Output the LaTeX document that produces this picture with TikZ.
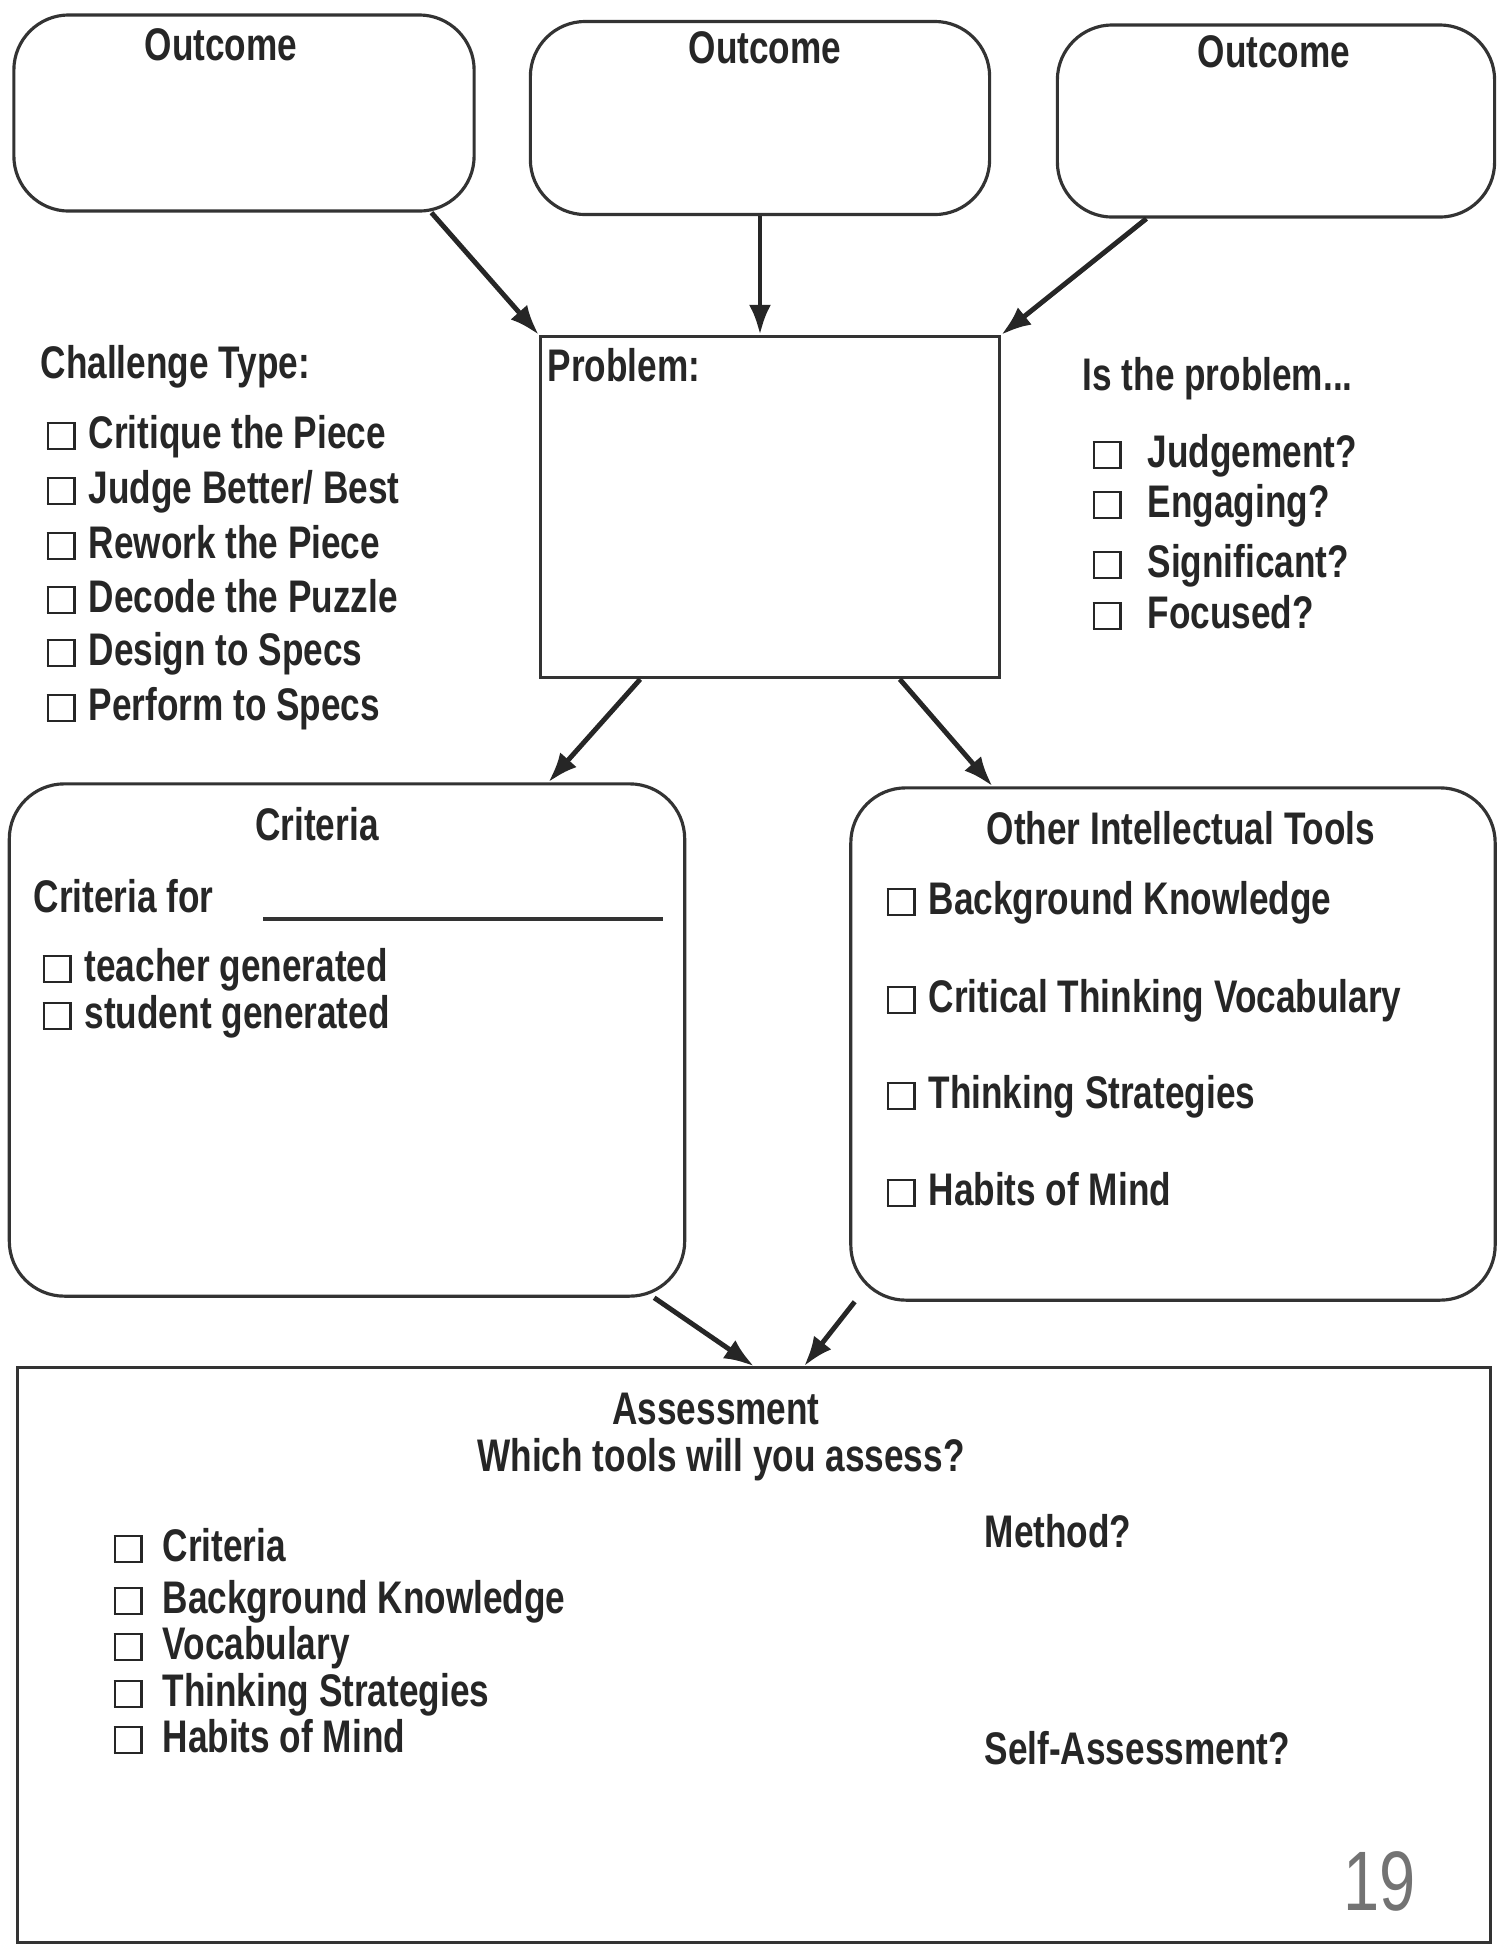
\documentclass[tikz,border=0pt]{standalone}
\usepackage{fontspec}
\setmainfont{Liberation Sans}[FakeStretch=0.77]
\newfontfamily\symf{DejaVu Sans}
\usetikzlibrary{arrows.meta,positioning}
\newcommand{\cb}{{\setlength{\fboxsep}{0pt}\setlength{\fboxrule}{0.7pt}\fbox{\rule{0pt}{2.4mm}\hspace{2.4mm}}}\hspace{1.3mm}}

\begin{document}
\begin{tikzpicture}[x=0.01cm,y=-0.01cm,
  box/.style={draw=black!80,line width=0.9pt,rounded corners=5.5mm},
  sqbox/.style={draw=black!80,line width=0.9pt},
  txt/.style={inner sep=0pt,text=black!85,font=\fontsize{13}{15}\selectfont\bfseries},
  arr/.style={line width=1.4pt,draw=black!85,-{Latex[length=3mm,width=2.2mm]}}]
\useasboundingbox (0,0) rectangle (1497,1944);
\node[box,minimum width=4.6cm,minimum height=1.96cm] (out1) at (244,113) {};
\node[box,minimum width=4.59cm,minimum height=1.93cm] (out2) at (760,118) {};
\node[box,minimum width=4.37cm,minimum height=1.92cm] (out3) at (1276,121) {};
\node[sqbox,minimum width=4.59cm,minimum height=3.41cm] (prob) at (770,507) {};
\node[box,minimum width=6.75cm,minimum height=5.12cm] (crit) at (347,1040) {};
\node[box,minimum width=6.44cm,minimum height=5.12cm] (other) at (1173,1044) {};
\node[sqbox,minimum width=14.72cm,minimum height=5.74cm] (assess) at (754,1655) {};

\node[txt,anchor=base] (o1lbl) at (221,60) {Outcome};
\node[txt,anchor=base] (o2lbl) at (765,63) {Outcome};
\node[txt,anchor=base] (o3lbl) at (1274,67) {Outcome};

\node[txt,anchor=base west] (chhead) at (40,378) {Challenge Type:};
\node[txt,anchor=base west] (ch1) at (46,448) {\cb Critique the Piece};
\node[txt,anchor=base west] (ch2) at (46,503) {\cb Judge Better/ Best};
\node[txt,anchor=base west] (ch3) at (46,558) {\cb Rework the Piece};
\node[txt,anchor=base west] (ch4) at (46,612) {\cb Decode the Puzzle};
\node[txt,anchor=base west] (ch5) at (46,665) {\cb Design to Specs};
\node[txt,anchor=base west] (ch6) at (46,720) {\cb Perform to Specs};

\node[txt,anchor=base west] (problbl) at (547,381) {Problem:};

\node[txt,anchor=base west] (ishead) at (1082,390) {Is the problem...};
\node[txt,anchor=base west] (is1) at (1092,467) {\cb\hspace{1.3mm}Judgement?};
\node[txt,anchor=base west] (is2) at (1092,517) {\cb\hspace{1.3mm}Engaging?};
\node[txt,anchor=base west] (is3) at (1092,577) {\cb\hspace{1.3mm}Significant?};
\node[txt,anchor=base west] (is4) at (1092,628) {\cb\hspace{1.3mm}Focused?};

\node[txt,anchor=base] (critlbl) at (317,840) {Criteria};
\node[txt,anchor=base west] (critfor) at (33,912) {Criteria for};
\draw[line width=0.9pt,black!80] (263,919) -- (663,919);
\node[txt,anchor=base west] (teach) at (42,981) {\cb teacher generated};
\node[txt,anchor=base west] (stud) at (42,1028) {\cb student generated};

\node[txt,anchor=base] (otherlbl) at (1181,844) {Other Intellectual Tools};
\node[txt,anchor=base west] (ot1) at (886,914) {\cb Background Knowledge};
\node[txt,anchor=base west] (ot2) at (886,1012) {\cb Critical Thinking Vocabulary};
\node[txt,anchor=base west] (ot3) at (886,1108) {\cb Thinking Strategies};
\node[txt,anchor=base west] (ot4) at (886,1205) {\cb Habits of Mind};

\node[txt,anchor=base] (asslbl) at (716,1424) {Assessment};
\node[txt,anchor=base] (whichlbl) at (721,1471) {Which tools will you assess?};
\node[txt,anchor=base west] (as1) at (113,1561) {\cb\hspace{0.7mm}Criteria};
\node[txt,anchor=base west] (as2) at (113,1613) {\cb\hspace{0.7mm}Background Knowledge};
\node[txt,anchor=base west] (as3) at (113,1659) {\cb\hspace{0.7mm}Vocabulary};
\node[txt,anchor=base west] (as4) at (113,1706) {\cb\hspace{0.7mm}Thinking Strategies};
\node[txt,anchor=base west] (as5) at (113,1752) {\cb\hspace{0.7mm}Habits of Mind};
\node[txt,anchor=base west] (method) at (984,1547) {Method?};
\node[txt,anchor=base west] (selfass) at (984,1764) {Self-Assessment?};
\node[inner sep=0pt,anchor=base,text=black!55,font=\fontsize{24}{26}\selectfont\mdseries] (pagenum) at (1380,1910) {19};

\draw[arr] (out1.-28) -- (prob.north west);
\draw[arr] (out2.south) -- (out2.south |- prob.north);
\draw[arr] (out3.-143) -- (prob.north east);
\draw[arr] (prob.-127) -- (crit.52);
\draw[arr] (prob.-53) -- (other.125);
\draw[arr] (crit.-40) -- (assess.north);
\draw[arr] (other.-141) -- ([xshift=5mm]assess.north);
\end{tikzpicture}
\end{document}
